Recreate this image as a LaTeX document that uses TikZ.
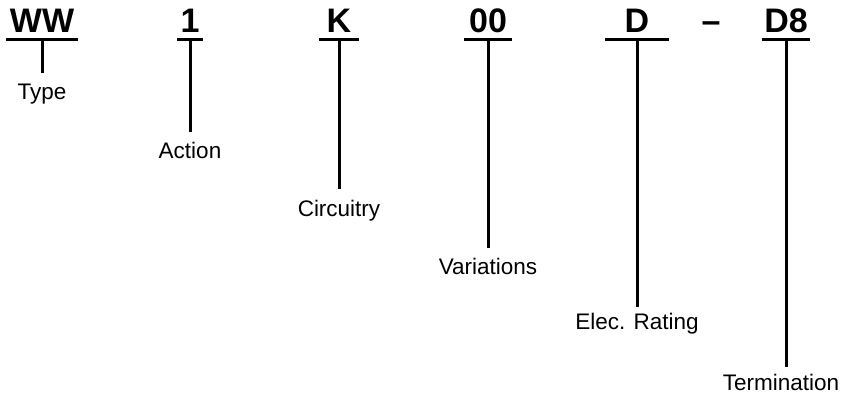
\documentclass[tikz,border=0pt]{standalone}
\usepackage{fontspec}
\setmainfont{Liberation Sans}

\begin{document}
\begin{tikzpicture}[x=1pt, y=-1pt, pn/.style={font=\fontsize{34}{34}\selectfont\bfseries,inner sep=0pt,outer sep=0pt,anchor=base}, desc/.style={font=\fontsize{22.5}{24}\selectfont,inner sep=0pt,inner ysep=10pt,outer sep=0pt,anchor=north}, bar/.style={line width=3pt}]
\useasboundingbox (0,0) rectangle (846,395);
% part number
\node[pn,minimum width=72pt] (ww) at (42,33) {WW};
\node[pn,minimum width=26pt] (act) at (190,33) {1};
\node[pn,minimum width=40pt] (cir) at (339,33) {K};
\node[pn,minimum width=48pt] (var) at (488,33) {00};
\node[pn,minimum width=64pt] (elec) at (637,33) {D};
\node[pn] (dash) at (711,33) {–};
\node[pn,minimum width=48pt] (term) at (786,33) {D8};
% descriptions
\node[desc,inner ysep=11pt] (type) at (42,73) {Type};
\node[desc] (action) at (190,132) {Action};
\node[desc,inner ysep=11pt] (circuitry) at (339,189) {Circuitry};
\node[desc] (variations) at (488,248) {Variations};
\node[desc,inner ysep=6pt] (rating) at (637,307) {Elec. Rating};
\node[desc,inner ysep=7pt] (termination) at (781,367) {Termination};
% underlines and leaders
\foreach \p/\d in {ww/type,act/action,cir/circuitry,var/variations,elec/rating,term/termination}{
  \draw[bar] ([yshift=-7pt]\p.base west) -- ([yshift=-7pt]\p.base east);
  \draw[bar] ([yshift=-7pt]\p.base) -- (\p.base |- \d.north);
}
\end{tikzpicture}
\end{document}
